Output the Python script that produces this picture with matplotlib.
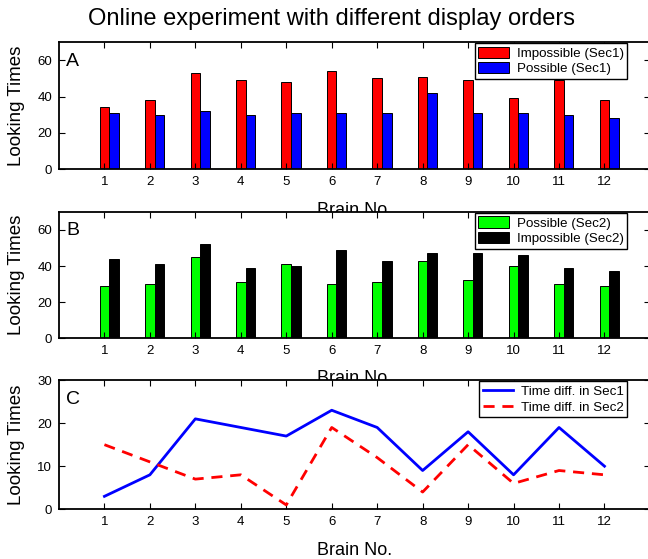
import numpy as np
import matplotlib
matplotlib.use("Agg")
import matplotlib.pyplot as plt

plt.rcParams['font.family'] = ['Liberation Sans', 'DejaVu Sans']

brains = np.arange(1, 13)
tick_labels = [str(b) for b in brains]

# panel A - section 1
imp_sec1 = [34, 38, 53, 49, 48, 54, 50, 51, 49, 39, 49, 38]
pos_sec1 = [31, 30, 32, 30, 31, 31, 31, 42, 31, 31, 30, 28]

# panel B - section 2
pos_sec2 = [29, 30, 45, 31, 41, 30, 31, 43, 32, 40, 30, 29]
imp_sec2 = [44, 41, 52, 39, 40, 49, 43, 47, 47, 46, 39, 37]

# panel C - time differences
diff_sec1 = [3, 8, 21, 19, 17, 23, 19, 9, 18, 8, 19, 10]
diff_sec2 = [15, 11, 7, 8, 1, 19, 12, 4, 15, 6, 9, 8]

fig = plt.figure(figsize=(6.48, 5.59), dpi=100)

left = 0.091
width = 0.912
axA = fig.add_axes([left, 0.697, width, 0.228])
axB = fig.add_axes([left, 0.395, width, 0.226])
axC = fig.add_axes([left, 0.089, width, 0.231])

w = 0.21

def style(ax, ylim, yticks, letter):
    ax.set_xlim(0, 13)
    ax.set_ylim(*ylim)
    ax.set_xticks(brains)
    ax.set_xticklabels(tick_labels)
    ax.set_yticks(yticks)
    ax.tick_params(direction='in', top=True, right=True, labelsize=9.5,
                   length=4, width=0.8, pad=5)
    for s in ax.spines.values():
        s.set_linewidth(1.3)
    ax.set_ylabel('Looking Times', fontsize=13.5)
    ax.yaxis.set_label_coords(-0.057, 0.5)
    ax.set_xlabel('Brain No.', fontsize=13)
    ax.xaxis.set_label_coords(0.5, -0.255)
    ax.text(0.012, 0.85, letter, transform=ax.transAxes, fontsize=14,
            va='center', ha='left')

# A
axA.bar(brains, imp_sec1, w, color='#ff0000', edgecolor='black', linewidth=0.7,
        label='Impossible (Sec1)')
axA.bar(brains + w, pos_sec1, w, color='#0000ff', edgecolor='black', linewidth=0.7,
        label='Possible (Sec1)')
style(axA, (0, 70), [0, 20, 40, 60], 'A')

# B
axB.bar(brains, pos_sec2, w, color='#00ff00', edgecolor='black', linewidth=0.7,
        label='Possible (Sec2)')
axB.bar(brains + w, imp_sec2, w, color='black', edgecolor='black', linewidth=0.7,
        label='Impossible (Sec2)')
style(axB, (0, 70), [0, 20, 40, 60], 'B')

# C
axC.plot(brains, diff_sec1, color='#0000ff', lw=2, label='Time diff. in Sec1')
axC.plot(brains, diff_sec2, color='#ff0000', lw=2, linestyle=(0, (4, 2.8)),
         label='Time diff. in Sec2')
style(axC, (0, 30), [0, 10, 20, 30], 'C')

for ax in (axA, axB, axC):
    leg = ax.legend(loc='upper right', bbox_to_anchor=(0.962, 0.99),
                    borderaxespad=0, fontsize=9.6, fancybox=False,
                    framealpha=1, edgecolor='black', handlelength=2.3,
                    handleheight=0.9, handletextpad=0.6, labelspacing=0.2,
                    borderpad=0.25)
    leg.get_frame().set_linewidth(1.0)

fig.text(0.511, 0.966, 'Online experiment with different display orders',
         ha='center', va='center', fontsize=17)

fig.savefig('out.png', dpi=100)
